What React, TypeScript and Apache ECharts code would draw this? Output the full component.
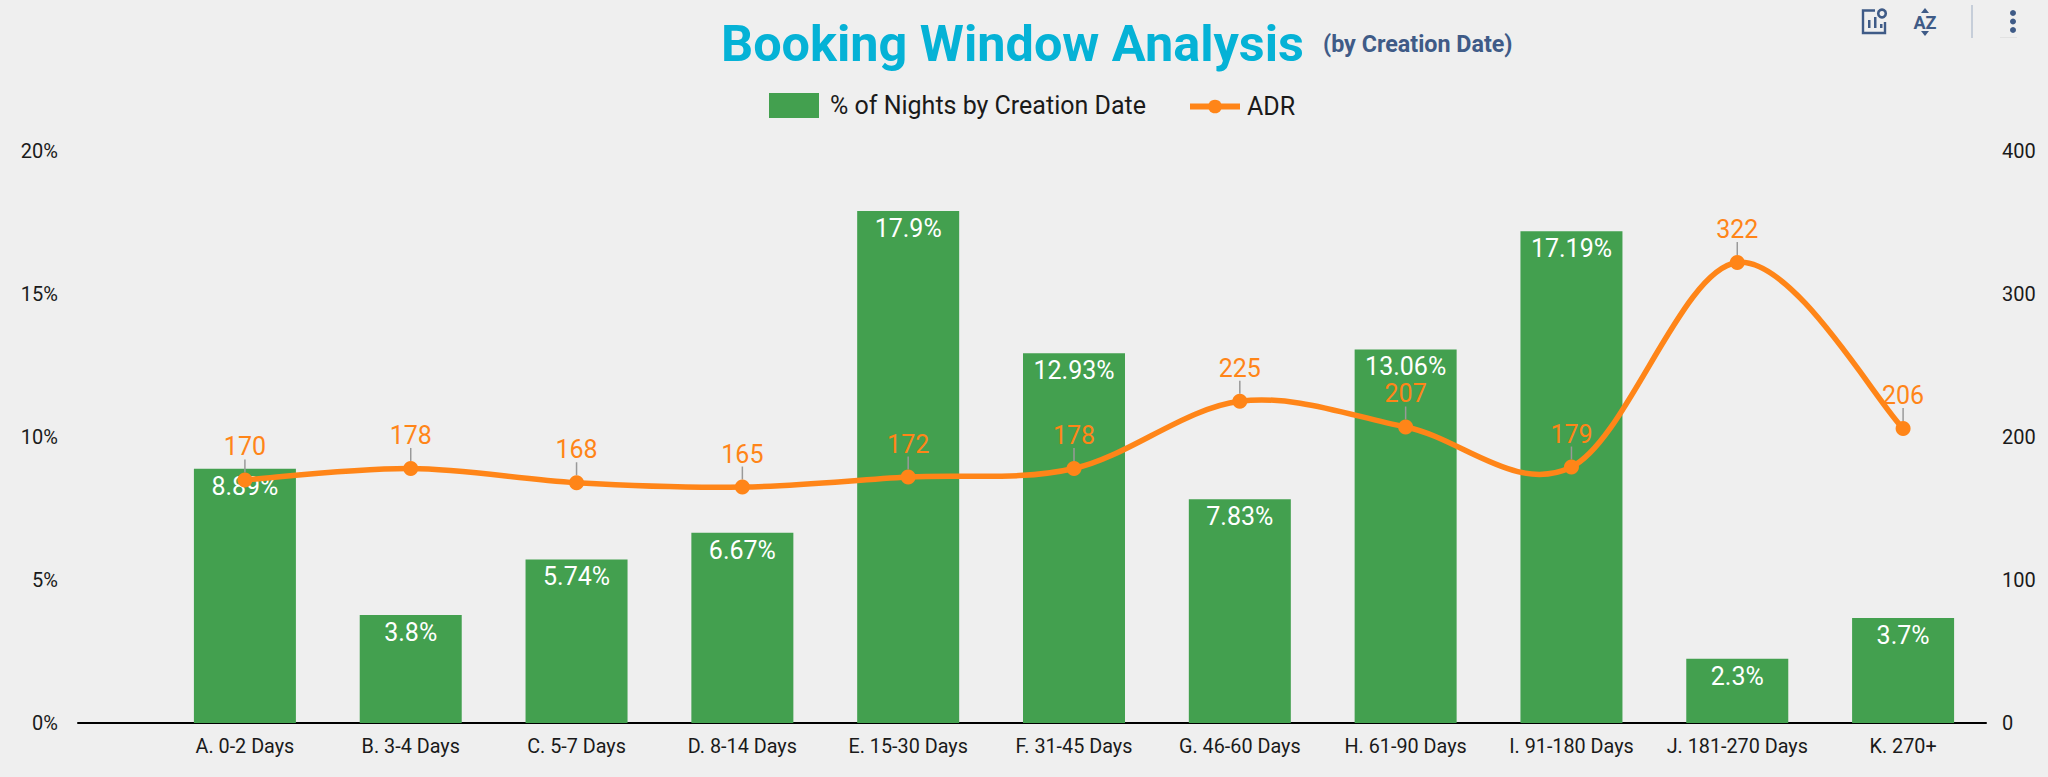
import React, { useEffect, useRef } from "react";
import * as echarts from "echarts";

const categories = ["A. 0-2 Days","B. 3-4 Days","C. 5-7 Days","D. 8-14 Days","E. 15-30 Days","F. 31-45 Days","G. 46-60 Days","H. 61-90 Days","I. 91-180 Days","J. 181-270 Days","K. 270+"];
const nightsPct = [8.89,3.78,5.72,6.65,17.9,12.93,7.82,13.06,17.19,2.25,3.67];
const nightsLabels = ["8.89%","3.8%","5.74%","6.67%","17.9%","12.93%","7.83%","13.06%","17.19%","2.3%","3.7%"];
const adr = [170,178,168,165,172,178,225,207,179,322,206];

const FONT = "Roboto";
const GREEN = "#43A04F";
const ORANGE = "#FF8518";
const ICON = "#3F5B87";
const TEXT = "#1a1a1a";
const BAR_NAME = "% of Nights by Creation Date";

export default function App() {
  const ref = useRef<HTMLDivElement>(null);
  useEffect(() => {
    const chart = echarts.init(ref.current!, null, { renderer: "svg" });
    const lineS = { stroke: ICON, fill: "none", lineWidth: 2.4 };
    const legendText = { fontFamily: FONT, fontSize: 25, color: TEXT };
    // Uniform Catmull-Rom curve through the ADR points, placed by the axes' own scales.
    const renderCurve = (params: any, api: any) => {
      const i = params.dataIndex;
      if (i >= adr.length - 1) return null;
      const at = (k: number) => api.coord([Math.max(0, Math.min(adr.length - 1, k)), adr[Math.max(0, Math.min(adr.length - 1, k))]]);
      const p0 = at(i - 1), p1 = at(i), p2 = at(i + 1), p3 = at(i + 2);
      return {
        type: "bezierCurve",
        shape: {
          x1: p1[0], y1: p1[1], x2: p2[0], y2: p2[1],
          cpx1: p1[0] + (p2[0] - p0[0]) / 6, cpy1: p1[1] + (p2[1] - p0[1]) / 6,
          cpx2: p2[0] - (p3[0] - p1[0]) / 6, cpy2: p2[1] - (p3[1] - p1[1]) / 6,
        },
        style: { stroke: ORANGE, lineWidth: 5.5, fill: "none", lineCap: "round" },
      };
    };
    chart.setOption({
      animation: false,
      backgroundColor: "#EFEFEF",
      textStyle: { fontFamily: FONT },
      title: [
        { text: "Booking Window Analysis", left: 721, top: 18, padding: 0, textStyle: { fontFamily: FONT, fontSize: 50.4, fontWeight: "bold", color: "#05B2D6" } },
        { text: "(by Creation Date)", left: 1323, top: 32, padding: 0, textStyle: { fontFamily: FONT, fontSize: 23.3, fontWeight: "bold", color: "#3F5B87" } },
      ],
      legend: [
        { left: 769, top: 93, padding: 0, itemWidth: 50, itemHeight: 25, icon: "rect", textStyle: { ...legendText, padding: [0, 0, 0, 6] }, data: [BAR_NAME] },
        { left: 1187, top: 94, padding: 0, itemWidth: 50, itemHeight: 17, textStyle: { ...legendText, padding: [0, 0, 0, 2] }, lineStyle: { color: ORANGE, width: 6, opacity: 1 }, data: ["ADR"] },
      ],
      grid: [
        { left: 162, right: 62, top: 151, bottom: 54 },
        { left: 78, right: 62, top: 151, bottom: 54 },
      ],
      xAxis: [
        { type: "category", data: categories, gridIndex: 0, axisLine: { show: false }, axisTick: { show: false },
          axisLabel: { fontFamily: FONT, fontSize: 19.8, color: TEXT, margin: 13, interval: 0 } },
        { type: "category", data: [], gridIndex: 1, axisLine: { show: true, lineStyle: { color: "#000", width: 2 } }, axisTick: { show: false }, axisLabel: { show: false } },
      ],
      yAxis: [
        { type: "value", gridIndex: 0, min: 0, max: 20, interval: 5, splitLine: { show: false }, axisLine: { show: false }, axisTick: { show: false },
          axisLabel: { formatter: "{value}%", fontFamily: FONT, fontSize: 20, color: TEXT, margin: 104 } },
        { type: "value", gridIndex: 0, position: "right", min: 0, max: 400, interval: 100, splitLine: { show: false }, axisLine: { show: false }, axisTick: { show: false },
          axisLabel: { fontFamily: FONT, fontSize: 20, color: TEXT, margin: 16 } },
        { type: "value", gridIndex: 1, show: false, min: 0, max: 1 },
      ],
      series: [
        { name: BAR_NAME, type: "bar", xAxisIndex: 0, yAxisIndex: 0, data: nightsPct, barWidth: 102,
          itemStyle: { color: GREEN },
          label: { show: true, position: "insideTop", distance: 5, formatter: (p: any) => nightsLabels[p.dataIndex], fontFamily: FONT, fontSize: 25, color: "#fff" } },
        { name: "ADR curve", type: "custom", xAxisIndex: 0, yAxisIndex: 1, data: adr.map((v, i) => [i, v]), encode: { x: 0, y: 1 }, renderItem: renderCurve, clip: false, z: 3 },
        { name: "ADR", type: "line", xAxisIndex: 0, yAxisIndex: 1, data: adr, symbol: "circle", symbolSize: 15, z: 3,
          itemStyle: { color: ORANGE }, lineStyle: { color: ORANGE, width: 5.5, opacity: 0 },
          label: { show: true, position: "top", distance: 4, fontFamily: FONT, fontSize: 25, color: ORANGE },
          labelLayout: { dy: -9 },
          labelLine: { show: true, length2: 0, lineStyle: { color: "#999", width: 1.5 } } },
      ],
      graphic: [
        { type: "polyline", shape: { points: [[1875, 10.5], [1863, 10.5], [1863, 33], [1885, 33], [1885, 22]] }, style: lineS },
        { type: "rect", shape: { x: 1868, y: 20, width: 2.5, height: 8 }, style: { fill: ICON } },
        { type: "rect", shape: { x: 1874, y: 17, width: 2.5, height: 11 }, style: { fill: ICON } },
        { type: "rect", shape: { x: 1880, y: 24, width: 2.5, height: 4 }, style: { fill: ICON } },
        { type: "circle", shape: { cx: 1882, cy: 13.5, r: 3.8 }, style: { stroke: ICON, fill: "none", lineWidth: 2.6 } },
        { type: "text", style: { x: 1925, y: 22, text: "AZ", align: "center", verticalAlign: "middle", font: `bold 18px ${FONT}`, fill: ICON } },
        { type: "polygon", shape: { points: [[1921, 13], [1929, 13], [1925, 8]] }, style: { fill: ICON } },
        { type: "polygon", shape: { points: [[1921, 31], [1929, 31], [1925, 36]] }, style: { fill: ICON } },
        { type: "line", shape: { x1: 1972, y1: 5, x2: 1972, y2: 38 }, style: { stroke: "#B9C3D2", lineWidth: 1.5 } },
        { type: "circle", shape: { cx: 2013, cy: 13, r: 3 }, style: { fill: ICON } },
        { type: "circle", shape: { cx: 2013, cy: 21.5, r: 3 }, style: { fill: ICON } },
        { type: "circle", shape: { cx: 2013, cy: 30, r: 3 }, style: { fill: ICON } },
        { type: "line", shape: { x1: 2000, y1: 37.5, x2: 2017, y2: 37.5 }, style: { stroke: "#E2E2E2", lineWidth: 1 } },
      ],
    });
    return () => chart.dispose();
  }, []);
  return <div ref={ref} style={{ position: "fixed", left: 0, top: 0, width: 2048, height: 777 }} />;
}
